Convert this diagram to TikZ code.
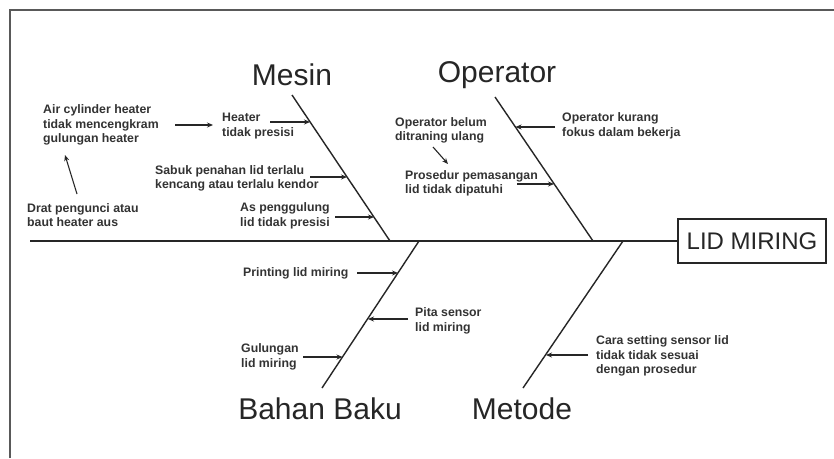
\documentclass[tikz,border=0pt]{standalone}
\usepackage{fontspec}
\setmainfont{Liberation Sans}
\usetikzlibrary{arrows.meta,calc}
\begin{document}
\begin{tikzpicture}[x=1pt,y=-1pt,
  bone/.style={line width=1.4pt,black!85},
  arr/.style={line width=1.1pt,black!85,-{Stealth[length=6pt,width=5pt]}},
  cause/.style={inner sep=0pt,anchor=west,align=left,font=\fontsize{12.3}{14.5}\selectfont\bfseries,text=black!80},
  cat/.style={inner sep=0pt,font=\fontsize{30}{34}\selectfont,text=black!85},
  effect/.style={draw,line width=1.3pt,black!85,minimum width=148pt,minimum height=44pt,inner sep=0pt,font=\fontsize{24}{28}\selectfont}]
\useasboundingbox (0,0) rectangle (834,458);
\fill[white] (0,0) rectangle (834,458);
% frame
\draw[line width=2pt,black!65] (10,458) -- (10,10) -- (834,10);
% spine and effect
\node[effect] (eff) at (752,241) {LID MIRING};
\coordinate (sp0) at (30,241);
\draw[bone] (sp0) -- (eff.west);
% bones
\coordinate (m0) at (292,95);  \coordinate (m1) at (390,241);
\coordinate (o0) at (495,97);  \coordinate (o1) at (593,241);
\coordinate (b0) at (419,241); \coordinate (b1) at (322,388);
\coordinate (t0) at (623,241); \coordinate (t1) at (523,388);
\draw[bone] (m0) -- (m1);
\draw[bone] (o0) -- (o1);
\draw[bone] (b0) -- (b1);
\draw[bone] (t0) -- (t1);
% category labels
\node[cat] (mesin) at (292,75) {Mesin};
\node[cat] (oper) at (497,75) {Operator};
\node[cat] (bahan) at (320,409) {Bahan Baku};
\node[cat] (metode) at (522,409) {Metode};
% Mesin causes
\node[cause] (air) at (43,125) {Air cylinder heater\\tidak mencengkram\\gulungan heater};
\node[cause] (heater) at (222,126) {Heater\\tidak presisi};
\node[cause] (drat) at (27,215) {Drat pengunci atau\\baut heater aus};
\node[cause] (sabuk) at (155,178.5) {Sabuk penahan lid terlalu\\kencang atau terlalu kendor};
\node[cause] (as) at (240,216) {As penggulung\\lid tidak presisi};
% Operator causes
\node[cause] (obelum) at (395,130.5) {Operator belum\\ditraning ulang};
\node[cause] (pros) at (405,183.5) {Prosedur pemasangan\\lid tidak dipatuhi};
\node[cause] (okur) at (562,126) {Operator kurang\\fokus dalam bekerja};
% Bahan Baku causes
\node[cause] (print) at (243,273) {Printing lid miring};
\node[cause] (pita) at (415,321) {Pita sensor\\lid miring};
\node[cause] (gul) at (241,357) {Gulungan\\lid miring};
% Metode causes
\node[cause] (cara) at (596,356) {Cara setting sensor lid\\tidak tidak sesuai\\dengan prosedur};
% arrow endpoints
\coordinate (a1s) at (175,125);   \coordinate (a1t) at (213,125);
\coordinate (a2s) at (270,122);   \coordinate (a2t) at (310,122);
\coordinate (a3s) at (77,194);    \coordinate (a3t) at (65,155);
\coordinate (a4s) at (310,177);   \coordinate (a4t) at (347,177);
\coordinate (a5s) at (335,217);   \coordinate (a5t) at (374,217);
\coordinate (a6s) at (433,147);   \coordinate (a6t) at (448,164);
\coordinate (a7s) at (517,184);   \coordinate (a7t) at (554,184);
\coordinate (a8s) at (555,127);   \coordinate (a8t) at (515.5,127);
\coordinate (a9s) at (357,273);   \coordinate (a9t) at (398,273);
\coordinate (a10s) at (408,319);  \coordinate (a10t) at (368,319);
\coordinate (a11s) at (303,357);  \coordinate (a11t) at (342.5,357);
\coordinate (a12s) at (588,355);  \coordinate (a12t) at (546,355);
\draw[arr] (a1s) -- (a1t);
\draw[arr] (a2s) -- (a2t);
\draw[arr] (a3s) -- (a3t);
\draw[arr] (a4s) -- (a4t);
\draw[arr] (a5s) -- (a5t);
\draw[arr] (a6s) -- (a6t);
\draw[arr] (a7s) -- (a7t);
\draw[arr] (a8s) -- (a8t);
\draw[arr] (a9s) -- (a9t);
\draw[arr] (a10s) -- (a10t);
\draw[arr] (a11s) -- (a11t);
\draw[arr] (a12s) -- (a12t);
\end{tikzpicture}
\end{document}
